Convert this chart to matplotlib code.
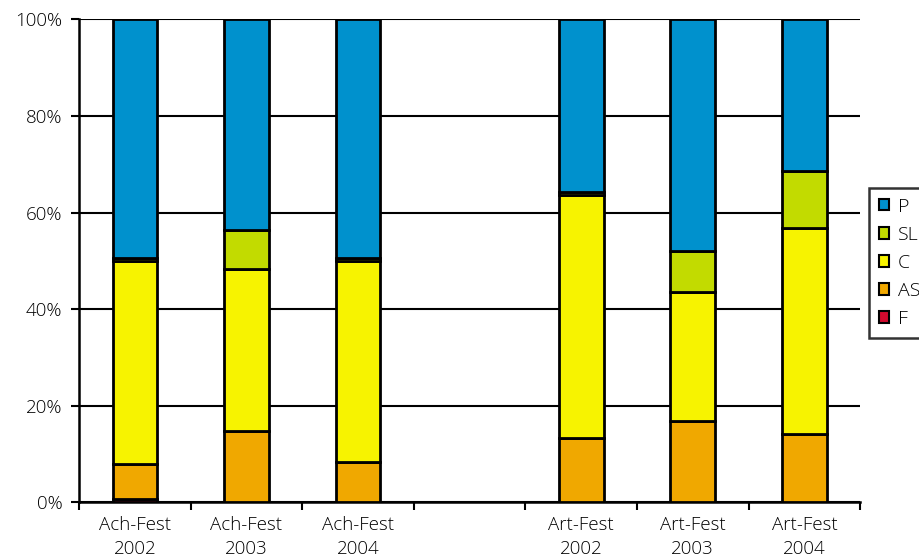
import matplotlib
matplotlib.use("Agg")
import matplotlib.pyplot as plt
from matplotlib.ticker import FixedLocator, PercentFormatter
import numpy as np

plt.rcParams['font.family'] = ['Open Sans', 'DejaVu Sans']

categories = ["Ach-Fest\n2002", "Ach-Fest\n2003", "Ach-Fest\n2004", "",
              "Art-Fest\n2002", "Art-Fest\n2003", "Art-Fest\n2004"]

# shares in percent per category (empty slot has no data)
nan = np.nan
F  = [0.7, 0.0, 0.0, nan, 0.0, 0.0, 0.0]
AS = [7.2, 14.7, 8.4, nan, 13.3, 16.9, 14.1]
C  = [42.2, 33.6, 41.7, nan, 50.3, 26.6, 42.7]
SL = [0.6, 8.2, 0.6, nan, 0.6, 8.6, 11.9]
P  = [49.3, 43.5, 49.3, nan, 35.8, 47.9, 31.3]

series = [("F", F, "#D20A2E"), ("AS", AS, "#F0A800"), ("C", C, "#F7F300"),
          ("SL", SL, "#C2DB00"), ("P", P, "#0091CD")]

fig = plt.figure(figsize=(9.19, 5.6), dpi=100)
ax = fig.add_axes([0.086, 0.1027, 0.850, 0.8625])

x = np.arange(len(categories))
bottom = np.zeros(len(categories))
handles = {}
for name, vals, col in series:
    v = np.array(vals, dtype=float)
    bars = ax.bar(x, v, width=0.4, bottom=bottom, color=col,
                  edgecolor="black", linewidth=2.0, label=name, zorder=3)
    handles[name] = bars
    bottom = bottom + np.nan_to_num(v)

ax.set_xlim(-0.5, len(categories) - 0.5)
ax.set_ylim(0, 100)
ax.yaxis.set_major_locator(FixedLocator([0, 20, 40, 60, 80, 100]))
ax.yaxis.set_major_formatter(PercentFormatter(decimals=0))
ax.grid(axis="y", color="black", linewidth=1.5, zorder=0)
ax.set_axisbelow(True)

ax.set_xticks(x)
ax.set_xticklabels(categories, fontsize=13.5, linespacing=1.4,
                   fontweight="light")
ax.tick_params(axis="x", which="major", length=0, pad=10)
ax.set_xticks(np.arange(len(categories) + 1) - 0.5, minor=True)
ax.tick_params(axis="x", which="minor", length=6, width=1.5, direction="out")
ax.tick_params(axis="y", labelsize=13.5, length=6, width=1.5, direction="out", pad=6)
for t in ax.get_yticklabels():
    t.set_fontweight("light")

for side in ("top", "right"):
    ax.spines[side].set_visible(False)
for side in ("left", "bottom"):
    ax.spines[side].set_linewidth(1.8)

order = ["P", "SL", "C", "AS", "F"]
leg = fig.legend([handles[k] for k in order], order,
                 loc="lower left", bbox_to_anchor=(0.9456, 0.397, 0.09, 0.264),
                 mode="expand", fontsize=14, frameon=True, fancybox=False,
                 handlelength=0.55, handleheight=0.55, handletextpad=0.45,
                 labelspacing=0.52, borderpad=0.5, borderaxespad=0)
leg.get_frame().set_edgecolor("black")
leg.get_frame().set_linewidth(1.8)
for t in leg.get_texts():
    t.set_fontweight("light")
for h in leg.legend_handles:
    h.set_linewidth(1.5)

fig.savefig("out.png", dpi=100)
